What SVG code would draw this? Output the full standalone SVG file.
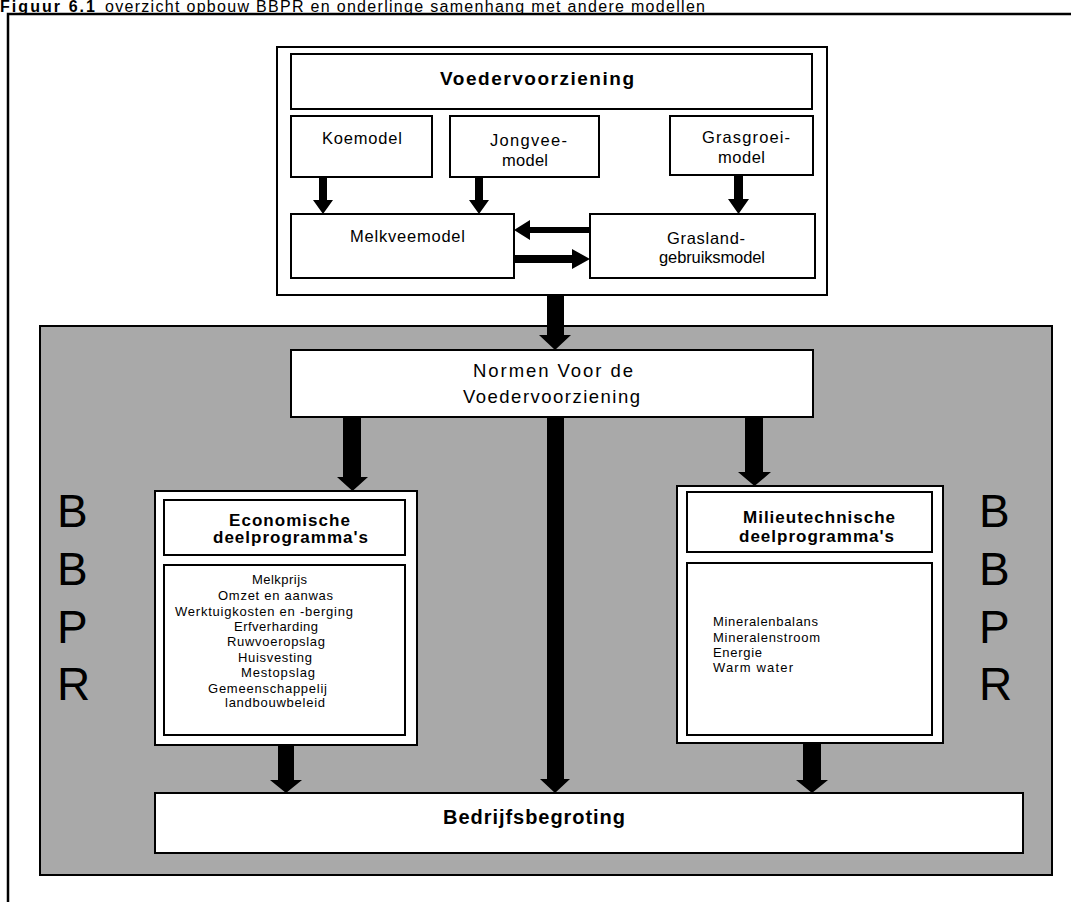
<svg xmlns="http://www.w3.org/2000/svg" width="1071" height="902" viewBox="0 0 1071 902">
<style>
.box{fill:#fff;stroke:#000;stroke-width:2}
.panel{fill:#a9a9a9;stroke:#000;stroke-width:2}
.frame{fill:none;stroke:#000;stroke-width:2.5}
.t{font-family:"Liberation Sans",Arial,Helvetica,sans-serif;fill:#000}
.b{font-weight:bold}
.s15{font-size:16.5px}
.s12{font-size:13px}
.big{font-size:46px}
.arr{fill:#000;stroke:none}
</style>
<rect width="1071" height="902" fill="#fff"/>
<g id="caption">
<text class="t b" x="0" y="12" font-size="16" textLength="95">Figuur 6.1</text>
<text class="t" x="105" y="12" font-size="16" textLength="600">overzicht opbouw BBPR en onderlinge samenhang met andere modellen</text>
</g>
<g id="frame">
<polyline class="frame" points="8,902 8,14 1071,14"/>
</g>
<g id="voedervoorziening-group">
<rect class="box" x="277" y="47" width="550" height="248"/>
</g>
<g id="voedervoorziening">
<rect class="box" x="291" y="54" width="521" height="55"/>
<text class="t b" x="440" y="85" font-size="19" textLength="194">Voedervoorziening</text>
</g>
<g id="koemodel">
<rect class="box" x="291" y="116" width="141" height="61"/>
<text class="t s15" x="322" y="144" textLength="80">Koemodel</text>
</g>
<g id="jongveemodel">
<rect class="box" x="450" y="116" width="149" height="61"/>
<text class="t s15" x="490" y="146" textLength="77">Jongvee-</text>
<text class="t s15" x="502" y="166" textLength="46">model</text>
</g>
<g id="grasgroeimodel">
<rect class="box" x="670" y="116" width="143" height="59"/>
<text class="t s15" x="702" y="143" textLength="88">Grasgroei-</text>
<text class="t s15" x="718" y="163" textLength="47">model</text>
</g>
<g id="melkveemodel">
<rect class="box" x="291" y="214" width="223" height="64"/>
<text class="t s15" x="350" y="242" textLength="115">Melkveemodel</text>
</g>
<g id="graslandgebruiksmodel">
<rect class="box" x="590" y="214" width="225" height="64"/>
<text class="t s15" x="667" y="244" textLength="78">Grasland-</text>
<text class="t s15" x="659" y="263" textLength="106">gebruiksmodel</text>
</g>
<g id="bbpr">
<rect class="panel" x="40" y="326" width="1012" height="549"/>
<text class="t big" x="57" y="527">B</text>
<text class="t big" x="57" y="585">B</text>
<text class="t big" x="57" y="643">P</text>
<text class="t big" x="57" y="700">R</text>
<text class="t big" x="979" y="527">B</text>
<text class="t big" x="979" y="585">B</text>
<text class="t big" x="979" y="643">P</text>
<text class="t big" x="979" y="700">R</text>
</g>
<g id="normen">
<rect class="box" x="291" y="350" width="522" height="67"/>
<text class="t" x="473" y="377" font-size="18.5" textLength="160">Normen Voor de</text>
<text class="t" x="463" y="403" font-size="18.5" textLength="177">Voedervoorziening</text>
</g>
<g id="economische">
<rect class="box" x="155" y="491" width="262" height="254"/>
<rect class="box" x="164" y="500" width="241" height="55"/>
<text class="t b" x="229" y="526" font-size="17" textLength="121">Economische</text>
<text class="t b" x="213" y="543" font-size="17" textLength="155">deelprogramma's</text>
<rect class="box" x="164" y="565" width="241" height="170"/>
<text class="t s12" x="252" y="584" textLength="55">Melkprijs</text>
<text class="t s12" x="218" y="600" textLength="115">Omzet en aanwas</text>
<text class="t s12" x="175" y="616" textLength="178">Werktuigkosten en -berging</text>
<text class="t s12" x="234" y="631" textLength="84">Erfverharding</text>
<text class="t s12" x="227" y="646" textLength="98">Ruwvoeropslag</text>
<text class="t s12" x="238" y="662" textLength="74">Huisvesting</text>
<text class="t s12" x="241" y="677" textLength="74">Mestopslag</text>
<text class="t s12" x="208" y="693" textLength="119">Gemeenschappelij</text>
<text class="t s12" x="225" y="707" textLength="100">landbouwbeleid</text>
</g>
<g id="milieutechnische">
<rect class="box" x="677" y="486" width="266" height="257"/>
<rect class="box" x="687" y="492" width="245" height="60"/>
<text class="t b" x="743" y="523" font-size="17" textLength="152">Milieutechnische</text>
<text class="t b" x="739" y="542" font-size="17" textLength="155">deelprogramma's</text>
<rect class="box" x="687" y="563" width="245" height="172"/>
<text class="t s12" x="713" y="626" textLength="105">Mineralenbalans</text>
<text class="t s12" x="713" y="642" textLength="107">Mineralenstroom</text>
<text class="t s12" x="713" y="657" textLength="49">Energie</text>
<text class="t s12" x="713" y="672" textLength="80">Warm water</text>
</g>
<g id="bedrijfsbegroting">
<rect class="box" x="155" y="793" width="868" height="60"/>
<text class="t b" x="443" y="824" font-size="20" textLength="182">Bedrijfsbegroting</text>
</g>
<g id="connectors">
<polygon class="arr" points="319,177 327,177 327,200 333,200 323,214 313,200 319,200"/>
<polygon class="arr" points="475,177 483,177 483,200 489,200 479,214 469,200 475,200"/>
<polygon class="arr" points="734,175 743,175 743,199 749,199 738.5,214 728,199 734,199"/>
<polygon class="arr" points="590,227 530,227 530,220 514,230 530,240 530,233 590,233"/>
<polygon class="arr" points="514,255 572,255 572,249 590,259 572,269 572,263 514,263"/>
<polygon class="arr" points="547,295 564,295 564,335 571,335 555,350 539,335 547,335"/>
<polygon class="arr" points="343,417 361,417 361,477 368,477 352.5,491 337,477 343,477"/>
<polygon class="arr" points="547,417 564,417 564,779 570,779 555,793 540,779 547,779"/>
<polygon class="arr" points="745,417 763,417 763,472 771,472 754.5,486 738,472 745,472"/>
<polygon class="arr" points="278,745 294,745 294,780 302,780 286,793 270,780 278,780"/>
<polygon class="arr" points="803,743 821,743 821,780 828,780 812,793 796,780 803,780"/>
</g>
</svg>
